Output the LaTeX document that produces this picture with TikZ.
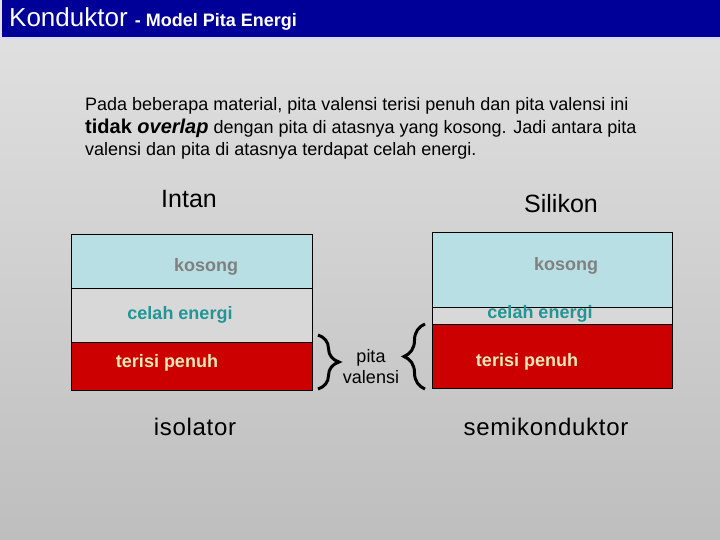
\documentclass[tikz,border=0pt]{standalone}
\usepackage{fontspec}
\setmainfont{Liberation Sans}
\usetikzlibrary{decorations.pathreplacing}

\definecolor{titleblue}{RGB}{0,0,153}
\definecolor{emptyband}{RGB}{184,224,228}
\definecolor{gapband}{RGB}{216,216,216}
\definecolor{fullband}{RGB}{204,0,0}
\definecolor{emptytext}{RGB}{128,128,128}
\definecolor{gaptext}{RGB}{32,150,150}
\definecolor{fulltext}{RGB}{232,232,184}

\begin{document}
\begin{tikzpicture}[x=1pt, y=-1pt,
    band/.style={draw=black, line width=0.8pt, anchor=north west, inner sep=0pt},
    bandlabel/.style={font=\fontsize{18}{20}\selectfont\bfseries},
    heading/.style={font=\fontsize{25}{28}\selectfont},
    kind/.style={font=\fontsize{24}{28}\selectfont\addfontfeature{LetterSpace=3}},
    para/.style={font=\fontsize{18}{21}\selectfont, anchor=base west, inner sep=0pt},
    curly/.style={decorate, decoration={brace, amplitude=21pt}, line width=3pt}]
    \useasboundingbox (0,0) rectangle (720,540);
    \shade[top color={rgb,255:red,226;green,226;blue,226}, bottom color={rgb,255:red,190;green,190;blue,190}] (0,0) rectangle (720,540);
    \fill[titleblue] (2,0) rectangle (720,37);
    \draw[white!85!blue, line width=1.5pt] (0,38) -- (720,38);
    \node[anchor=base west, inner sep=0pt, text=white] (title) at (9,27)
      {\fontsize{26}{30}\selectfont Konduktor \fontsize{18}{22}\selectfont\bfseries - Model Pita Energi};

    \node[para] (para1) at (85,111) {Pada beberapa material, pita valensi terisi penuh dan pita valensi ini};
    \node[para] (para2) at (85,134) {{\fontsize{20}{24}\selectfont\bfseries tidak \itshape overlap} dengan pita di atasnya yang kosong. Jadi antara pita};
    \node[para] (para3) at (85,156) {valensi dan pita di atasnya terdapat celah energi.};

    % isolator
    \node[heading] (intan) at (189,199) {Intan};
    \node[band, fill=emptyband, minimum width=241, minimum height=54] (intanempty) at (71,234) {};
    \node[band, fill=gapband, minimum width=241, minimum height=54] (intangap) at (71,288) {};
    \node[band, fill=fullband, minimum width=241, minimum height=48] (intanfull) at (71,342) {};
    \node[bandlabel, text=emptytext] at (206,267) {kosong};
    \node[bandlabel, text=gaptext] at (180,315) {celah energi};
    \node[bandlabel, text=fulltext] at (167,363) {terisi penuh};
    \node[kind] (isolator) at (195,427) {isolator};

    % semikonduktor
    \node[heading] (silikon) at (561,204) {Silikon};
    \node[band, fill=emptyband, minimum width=240, minimum height=75] (siliconempty) at (432,232) {};
    \node[band, fill=gapband, minimum width=240, minimum height=17] (silicongap) at (432,307) {};
    \node[band, fill=fullband, minimum width=240, minimum height=64] (siliconfull) at (432,324) {};
    \node[bandlabel, text=emptytext] at (566,266) {kosong};
    \node[bandlabel, text=gaptext] at (540,314) {celah energi};
    \node[bandlabel, text=fulltext] at (527,362) {terisi penuh};
    \node[kind] (semikonduktor) at (546,427) {semikonduktor};

    % pita valensi
    \node[align=center, font=\fontsize{18}{21}\selectfont] (valensi) at (371,367) {pita\\valensi};
    \coordinate (rtop) at (318,335);
    \coordinate (rbot) at (318,389);
    \coordinate (ltop) at (425,324);
    \coordinate (lbot) at (425,389);
    \draw[curly] (rtop) -- (rbot);
    \draw[curly] (lbot) -- (ltop);
\end{tikzpicture}
\end{document}
